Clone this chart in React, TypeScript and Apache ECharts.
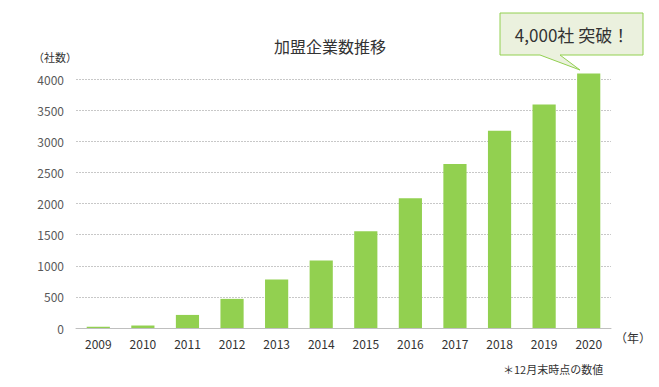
import React, { useEffect, useRef } from "react";
import * as echarts from "echarts";

const years = ["2009", "2010", "2011", "2012", "2013", "2014", "2015", "2016", "2017", "2018", "2019", "2020"];
const companies = [20, 40, 210, 468, 779, 1085, 1553, 2085, 2634, 3170, 3590, 4090];
const yTicks = { min: 0, max: 4000, interval: 500 };

const FONT = "'Noto Sans CJK JP', 'Noto Sans', sans-serif";

export default function App() {
  const ref = useRef<HTMLDivElement>(null);
  useEffect(() => {
    if (!ref.current) return;
    const chart = echarts.init(ref.current, undefined, { renderer: "svg" });
    chart.setOption({
      animation: false,
      textStyle: { fontFamily: FONT },
      title: {
        text: "加盟企業数推移",
        left: 325,
        top: 33,
        textAlign: "center",
        textStyle: { fontSize: 16, fontWeight: "normal", color: "#333", fontFamily: FONT },
      },
      grid: { left: 76, right: 48, top: 79, bottom: 59 },
      xAxis: {
        type: "category",
        data: years,
        axisLine: { show: true, lineStyle: { color: "#BFBFBF" } },
        axisTick: { show: false },
        axisLabel: { color: "#333", fontSize: 12, margin: 9, fontFamily: FONT },
      },
      yAxis: {
        type: "value",
        min: yTicks.min,
        max: yTicks.max,
        interval: yTicks.interval,
        axisLine: { show: false },
        axisTick: { show: false },
        axisLabel: {
          color: "#595959",
          fontSize: 12,
          margin: 12,
          fontFamily: FONT,
          formatter: (v: number) => String(v),
        },
        splitLine: { lineStyle: { color: "#C8C8C8", type: [2, 1], width: 1 } },
      },
      series: [
        {
          type: "bar",
          data: companies,
          barWidth: "52%",
          clip: false,
          itemStyle: { color: "#92D050" },
        },
      ],
      graphic: [
        {
          type: "text",
          left: 33,
          top: 51,
          style: { text: "（社数）", fill: "#333", font: `11px ${FONT}` },
        },
        {
          type: "text",
          left: 615,
          top: 331,
          style: { text: "（年）", fill: "#333", font: `12px ${FONT}` },
        },
        {
          type: "text",
          left: 503,
          top: 363,
          style: { text: "＊12月末時点の数値", fill: "#333", font: `11px ${FONT}` },
        },
        {
          type: "polygon",
          shape: {
            points: [
              [500, 13],
              [643, 13],
              [643, 55],
              [560, 55],
              [580, 70],
              [540, 55],
              [500, 55],
            ],
          },
          style: { fill: "#EBF1DE", stroke: "#92D050", lineWidth: 1 },
          z: 10,
        },
        {
          type: "text",
          x: 572,
          y: 34,
          style: {
            text: "4,000社 突破！",
            fill: "#333",
            font: `17px ${FONT}`,
            align: "center",
            verticalAlign: "middle",
          },
          z: 11,
        },
      ],
    });
    return () => chart.dispose();
  }, []);
  return <div ref={ref} style={{ width: 659, height: 387, position: "absolute", left: 0, top: 0 }} />;
}
